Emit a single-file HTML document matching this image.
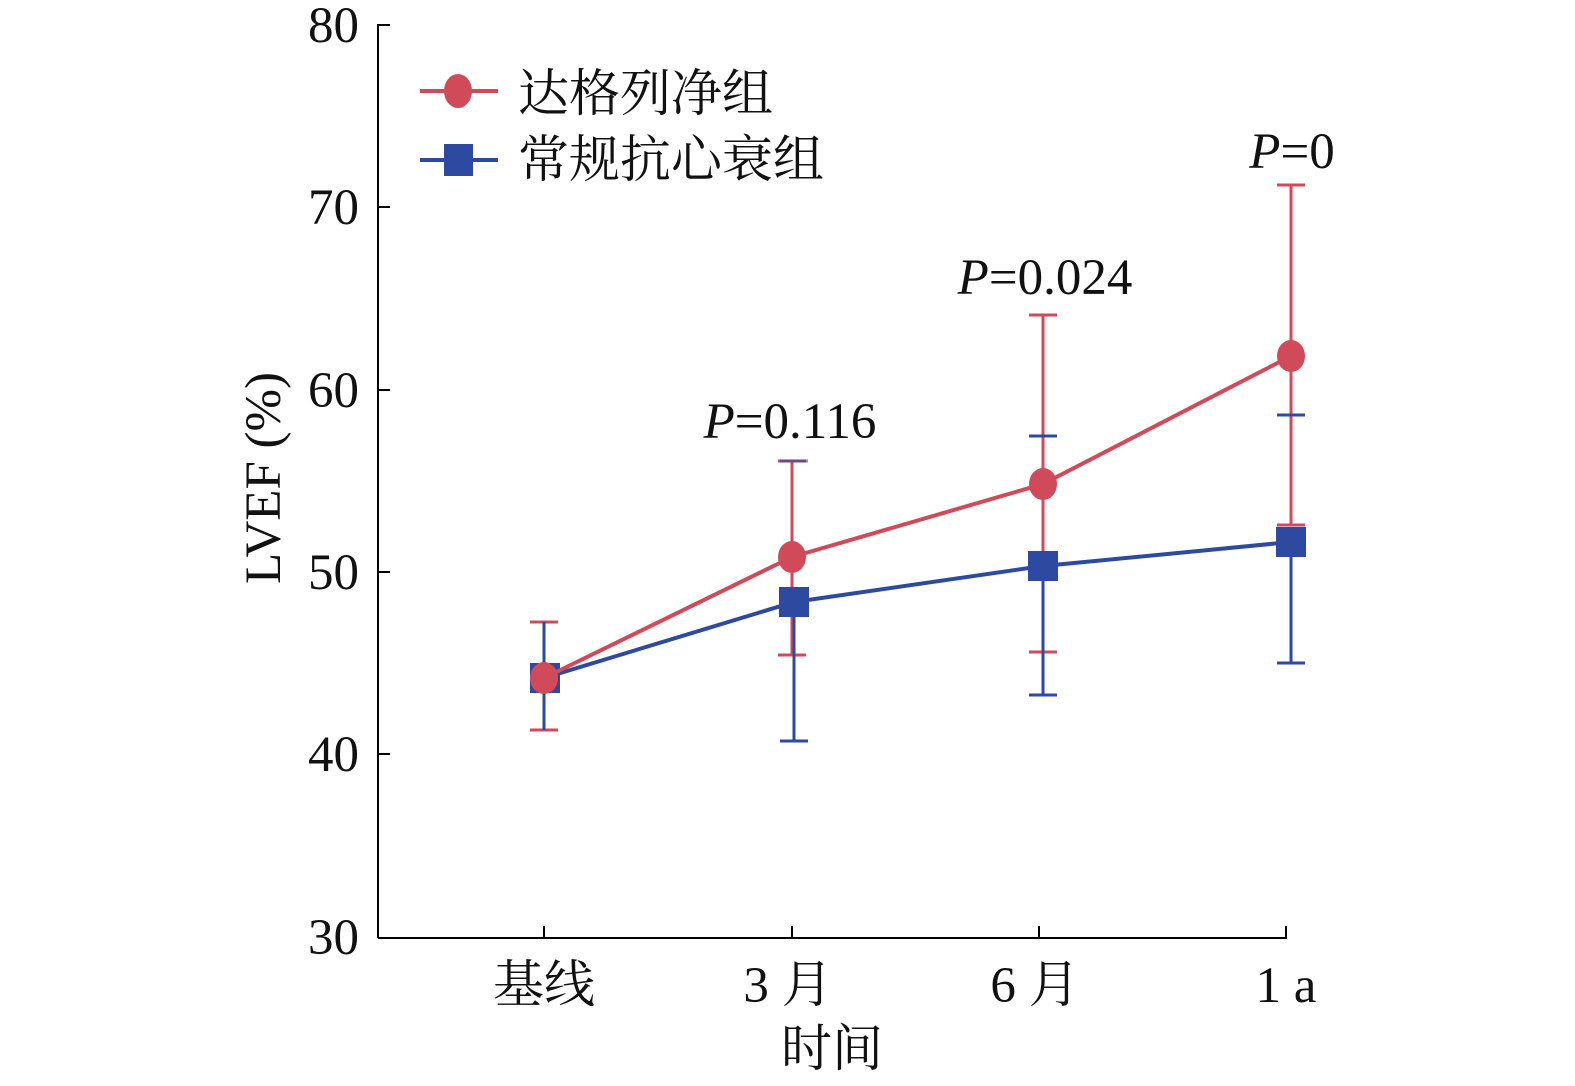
<!DOCTYPE html>
<html><head><meta charset="utf-8"><style>body{margin:0;background:#fff}svg{display:block}</style></head>
<body>
<svg width="1575" height="1086" viewBox="0 0 1575 1086" xmlns="http://www.w3.org/2000/svg" font-family="'Liberation Serif','Noto Serif CJK SC',serif">
<g stroke="#000" stroke-width="2" fill="none">
<line x1="378" y1="24" x2="378" y2="938"/>
<line x1="378" y1="938" x2="1287" y2="938"/>
<line x1="378" y1="25" x2="390" y2="25"/>
<line x1="378" y1="207" x2="390" y2="207"/>
<line x1="378" y1="390" x2="390" y2="390"/>
<line x1="378" y1="572" x2="390" y2="572"/>
<line x1="378" y1="754" x2="390" y2="754"/>
<line x1="544" y1="926" x2="544" y2="938"/>
<line x1="792" y1="926" x2="792" y2="938"/>
<line x1="1039" y1="926" x2="1039" y2="938"/>
<line x1="1286" y1="926" x2="1286" y2="938"/>
</g>
<g font-size="51" text-anchor="end" fill="#111">
<text x="359" y="42">80</text><text x="359" y="224">70</text><text x="359" y="407">60</text>
<text x="359" y="589">50</text><text x="359" y="771">40</text><text x="359" y="954">30</text>
</g>
<g font-size="51" text-anchor="middle" fill="#111">
<text x="544" y="1002">基线</text><text x="788" y="1002">3 月</text><text x="1035" y="1002">6 月</text><text x="1286" y="1002">1 a</text>
<text x="832" y="1066">时间</text>
<text transform="translate(280,478) rotate(-90)">LVEF (%)</text>
<text x="790" y="438"><tspan font-style="italic">P</tspan>=0.116</text>
<text x="1045" y="294"><tspan font-style="italic">P</tspan>=0.024</text>
<text x="1292" y="168"><tspan font-style="italic">P</tspan>=0</text>
</g>
<g stroke="#d04a5a" stroke-width="3">
<line x1="544" y1="622" x2="544" y2="730"/><line x1="530" y1="622" x2="558" y2="622"/><line x1="530" y1="730" x2="558" y2="730"/>
<line x1="792" y1="461" x2="792" y2="655"/><line x1="778" y1="461" x2="806" y2="461"/><line x1="778" y1="655" x2="806" y2="655"/>
<line x1="1043" y1="315" x2="1043" y2="652"/><line x1="1029" y1="315" x2="1057" y2="315"/><line x1="1029" y1="652" x2="1057" y2="652"/>
<line x1="1291" y1="185" x2="1291" y2="525"/><line x1="1277" y1="185" x2="1305" y2="185"/><line x1="1277" y1="525" x2="1305" y2="525"/>
</g>
<g stroke="#2e4aa0" stroke-width="3">
<line x1="544" y1="622" x2="544" y2="730"/>
<line x1="794" y1="602" x2="794" y2="741"/><line x1="780" y1="741" x2="808" y2="741"/><line x1="780" y1="461" x2="808" y2="461" stroke-opacity="0.6"/>
<line x1="1043" y1="566" x2="1043" y2="695"/><line x1="1029" y1="695" x2="1057" y2="695"/><line x1="1029" y1="436" x2="1057" y2="436"/>
<line x1="1291" y1="542" x2="1291" y2="663"/><line x1="1277" y1="663" x2="1305" y2="663"/><line x1="1277" y1="415" x2="1305" y2="415"/>
</g>
<polyline points="544,678 794,602 1043,566 1291,542" fill="none" stroke="#2e4aa0" stroke-width="4"/>
<g fill="#2e4aa0">
<rect x="530" y="663" width="30" height="30"/><rect x="779" y="587" width="30" height="30"/>
<rect x="1028" y="551" width="30" height="30"/><rect x="1276" y="527" width="30" height="30"/>
</g>
<polyline points="544,678 792,557 1043,484 1291,356" fill="none" stroke="#d04a5a" stroke-width="4"/>
<g fill="#d04a5a">
<ellipse cx="544" cy="678" rx="14" ry="16"/><ellipse cx="792" cy="557" rx="14" ry="16"/>
<ellipse cx="1043" cy="484" rx="14" ry="16"/><ellipse cx="1291" cy="356" rx="14" ry="16"/>
</g>
<line x1="420" y1="91" x2="498" y2="91" stroke="#d04a5a" stroke-width="4"/>
<ellipse cx="458" cy="91" rx="14" ry="17" fill="#d04a5a"/>
<line x1="420" y1="160" x2="498" y2="160" stroke="#2e4aa0" stroke-width="4"/>
<rect x="444" y="144" width="29" height="32" fill="#2e4aa0"/>
<g font-size="51" fill="#111">
<text x="518" y="111">达格列净组</text>
<text x="518" y="177">常规抗心衰组</text>
</g>
</svg>
</body></html>
